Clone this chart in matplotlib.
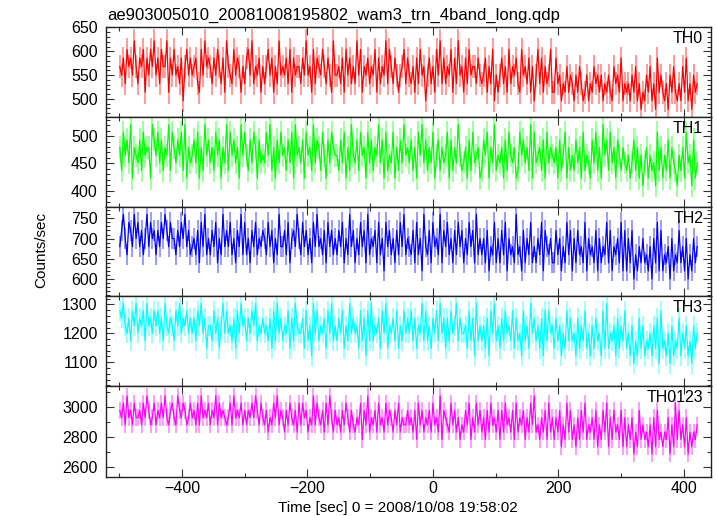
import numpy as np
import matplotlib
matplotlib.use("Agg")
import matplotlib.pyplot as plt
from matplotlib.ticker import MultipleLocator

# light curve, roughly 3 s bins from t=-499 to t=421
T_START, T_STOP = -499.0, 421.0

PANEL_NAMES = ["TH0", "TH1", "TH2", "TH3", "TH0123"]
COLORS = ["#ff0000", "#00ff00", "#0000ff", "#00ffff", "#ff00ff"]

# rate per bin, coded as one digit per bin: rate = base + step * digit
TH0_DIGITS = (
    "6574867596 4768375869 5748669375 8564726857 "
    "5674385967 6475864739 6548576364 7859465736 "
    "4685736495 6574837566 4759563847 6586475395 "
    "5647385746 4958365746 5837465948 6475356847 "
    "5463748562 5746385947 4658374956 3748566475 "
    "4573648253 5746384657 4385647362 5847364583 "
    "3745243635 4253642352 4364535243 5326453724 "
    "3425362413 2536241735 3241536324 2637241534"
)
TH1_DIGITS = (
    "6385749265 4738566297 5847365938 6475839264 "
    "5748263957 4638572649 3857462958 5374862745 "
    "4859362748 5637482956 4728563947 6385274865 "
    "5374826395 4738562847 3659472835 4826374956 "
    "4736285947 3648257364 5827364953 4627384562 "
    "3758264935 4627385462 3857463928 4563728465 "
    "4627358263 5374628354 2748362957 3846275364 "
    "3524736251 4625341836 2537264315 3628451724"
)
TH2_DIGITS = (
    "5796487596 8574695867 4758697586 6475869574 "
    "5647385946 4758364957 5846375948 4637584657 "
    "6485736495 5748367596 4857463859 5647385746 "
    "4758364957 3648573946 5738462857 4637485946 "
    "5473846295 4738564937 5846374857 3648573946 "
    "4637254836 3748264539 4527364835 3648275463 "
    "3746253847 2637453826 4537263548 3725463827 "
    "2637142536 3425163827 2435162437 3526142635"
)
TH3_DIGITS = (
    "8796574869 5768496758 6857496576 4869576857 "
    "5748695736 6485736958 5647385967 4758694657 "
    "5647384957 4658374965 5738462958 4657385946 "
    "4758364957 5638472849 4657385936 5748364857 "
    "5847365948 4637584957 3748569475 5638472946 "
    "4637285946 3748564837 4528463957 4637284856 "
    "3746253847 4527364835 2637452839 3546273648 "
    "3526142736 2435263718 3425162437 2536241635"
)
TH0123_DIGITS = (
    "7685967586 6758697568 5768696578 6597687568 "
    "6758596768 5769586765 6859676857 5768697586 "
    "5746586957 6475865748 5867465958 6574859647 "
    "5647586475 4658375946 5748564857 6475846557 "
    "5647385746 5748564937 6548574635 4758364857 "
    "4637485647 3748564738 4657364859 4536473846 "
    "3647253847 3526374835 4637253748 2637453726 "
    "2536142735 3425162734 2436152837 3526142435"
)
PANEL_DIGITS = [TH0_DIGITS, TH1_DIGITS, TH2_DIGITS, TH3_DIGITS, TH0123_DIGITS]
LEVEL_BASE = [460, 395, 580, 1070, 2640]
LEVEL_STEP = [18, 14, 20, 26, 48]
RATE_ERR = [24, 21, 26, 35, 54]

YLIMS = [(462, 651), (370, 535), (558, 778), (1018, 1329), (2536, 3137)]
Y_MAJOR = [50, 50, 50, 100, 200]
Y_MINOR = [10, 10, 10, 20, 100]
XLIM = (-521, 443)

TITLE = "ae903005010_20081008195802_wam3_trn_4band_long.qdp"
XLABEL = "Time [sec] 0 = 2008/10/08 19:58:02"
YLABEL = "Counts/sec"


def decode(digits, base, step):
    d = np.array([int(c) for c in digits.replace(" ", "")], dtype=float)
    return base + step * d


def main():
    plt.rcParams["font.family"] = ["Liberation Sans", "DejaVu Sans"]
    plt.rcParams["font.size"] = 11.5

    fig = plt.figure(figsize=(7.17, 5.16), dpi=100)
    W, H = 717.0, 516.0
    left, right = 106 / W, 711 / W
    edges = [27, 117, 207, 296, 386, 477]

    for i, name in enumerate(PANEL_NAMES):
        top, bot = edges[i], edges[i + 1]
        ax = fig.add_axes([left, 1 - bot / H, right - left, (bot - top) / H])

        rate = decode(PANEL_DIGITS[i], LEVEL_BASE[i], LEVEL_STEP[i])
        t = np.linspace(T_START, T_STOP, len(rate))
        err = RATE_ERR[i]
        ax.vlines(t, rate - err, rate + err, color=COLORS[i], alpha=0.5, lw=1.1)
        ax.plot(t, rate, color=COLORS[i], lw=0.9)

        ax.set_xlim(*XLIM)
        ax.set_ylim(*YLIMS[i])
        ax.yaxis.set_major_locator(MultipleLocator(Y_MAJOR[i]))
        ax.yaxis.set_minor_locator(MultipleLocator(Y_MINOR[i]))
        ax.xaxis.set_major_locator(MultipleLocator(200))
        ax.xaxis.set_minor_locator(MultipleLocator(100))
        ax.tick_params(which="both", direction="in", top=True, right=True,
                       width=0.8, colors="#333333", labelcolor="black")
        ax.tick_params(which="major", length=6)
        ax.tick_params(which="minor", length=3)
        ax.tick_params(axis="y", pad=6)
        ax.tick_params(axis="x", pad=3)
        if i < len(PANEL_NAMES) - 1:
            ax.tick_params(labelbottom=False)
        for sp in ax.spines.values():
            sp.set_linewidth(1.0)
            sp.set_color("#222222")

        ax.text(0.987, 0.955, name, transform=ax.transAxes, ha="right", va="top",
                fontsize=11.5)

    fig.text(107 / W, 1 - 20 / H, TITLE, ha="left", va="baseline", fontsize=12)
    fig.text(41 / W, 0.515, YLABEL, rotation=90, ha="center", va="center", fontsize=11)
    fig.text(398 / W, 1 - 508 / H, XLABEL, ha="center", va="center", fontsize=11)

    fig.savefig("out.png", dpi=100)
    plt.close(fig)


if __name__ == "__main__":
    main()
